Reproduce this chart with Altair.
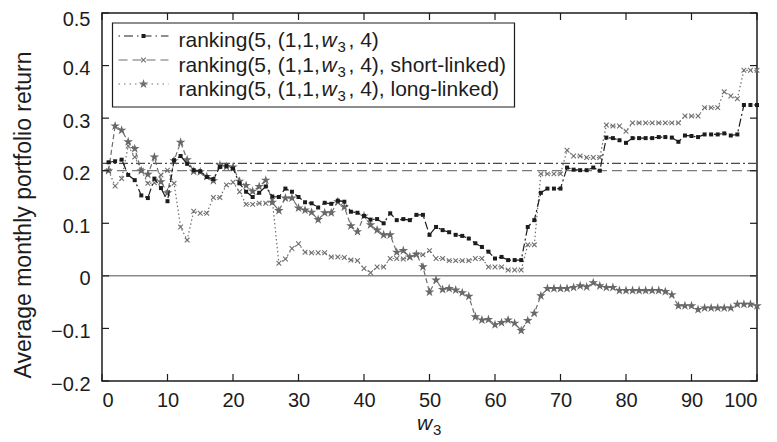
import altair as alt
import pandas as pd

# ---------------- data ----------------
w3 = list(range(1, 101))

ranking = [
    0.216, 0.218, 0.221, 0.192, 0.182, 0.153, 0.148, 0.185, 0.167, 0.142,
    0.220, 0.228, 0.213, 0.201, 0.199, 0.188, 0.184, 0.207, 0.209, 0.204,
    0.176, 0.160, 0.150, 0.158, 0.170, 0.151, 0.150, 0.166, 0.160, 0.150,
    0.140, 0.138, 0.130, 0.139, 0.137, 0.143, 0.141, 0.122, 0.120, 0.114,
    0.107, 0.108, 0.100, 0.119, 0.106, 0.108, 0.106, 0.116, 0.116, 0.078,
    0.093, 0.087, 0.083, 0.078, 0.076, 0.071, 0.062, 0.055, 0.046, 0.033,
    0.036, 0.030, 0.030, 0.030, 0.093, 0.106, 0.158, 0.166, 0.166, 0.166,
    0.206, 0.202, 0.201, 0.201, 0.206, 0.200, 0.263, 0.262, 0.258, 0.253,
    0.262, 0.262, 0.262, 0.262, 0.264, 0.264, 0.263, 0.255, 0.267, 0.266,
    0.264, 0.269, 0.269, 0.269, 0.271, 0.267, 0.269, 0.325, 0.325, 0.325,
]

short_linked = [
    0.200, 0.171, 0.185, 0.247, 0.226, 0.201, 0.176, 0.177, 0.192, 0.201,
    0.176, 0.093, 0.068, 0.123, 0.119, 0.119, 0.149, 0.149, 0.173, 0.178,
    0.160, 0.136, 0.136, 0.138, 0.138, 0.144, 0.024, 0.032, 0.052, 0.061,
    0.045, 0.044, 0.044, 0.044, 0.036, 0.036, 0.035, 0.030, 0.029, 0.014,
    0.006, 0.017, 0.017, 0.033, 0.033, 0.032, 0.035, 0.040, 0.040, 0.048,
    0.033, 0.033, 0.029, 0.029, 0.029, 0.029, 0.033, 0.033, 0.017, 0.017,
    0.017, 0.011, 0.011, 0.011, 0.059, 0.059, 0.194, 0.194, 0.194, 0.194,
    0.239, 0.228, 0.228, 0.225, 0.225, 0.225, 0.287, 0.285, 0.285, 0.275,
    0.291, 0.291, 0.291, 0.291, 0.291, 0.291, 0.291, 0.291, 0.304, 0.304,
    0.304, 0.320, 0.320, 0.320, 0.350, 0.342, 0.337, 0.391, 0.391, 0.391,
]

long_linked = [
    0.200, 0.285, 0.277, 0.255, 0.242, 0.200, 0.193, 0.226, 0.179, 0.158,
    0.219, 0.254, 0.221, 0.199, 0.198, 0.189, 0.181, 0.211, 0.208, 0.207,
    0.180, 0.172, 0.161, 0.170, 0.182, 0.140, 0.124, 0.148, 0.148, 0.129,
    0.125, 0.121, 0.107, 0.120, 0.120, 0.141, 0.131, 0.095, 0.084, 0.114,
    0.097, 0.087, 0.078, 0.078, 0.045, 0.048, 0.036, 0.041, 0.017, -0.031,
    -0.008, -0.026, -0.024, -0.027, -0.032, -0.039, -0.078, -0.084, -0.083, -0.093,
    -0.089, -0.084, -0.090, -0.104, -0.085, -0.071, -0.038, -0.024, -0.024, -0.024,
    -0.024, -0.022, -0.019, -0.021, -0.013, -0.019, -0.022, -0.022, -0.028, -0.028,
    -0.028, -0.028, -0.028, -0.028, -0.028, -0.030, -0.036, -0.057, -0.057, -0.057,
    -0.064, -0.061, -0.061, -0.061, -0.061, -0.061, -0.054, -0.054, -0.054, -0.057,
]

bench_dashdot = [0.214]
bench_dashed = [0.200]
zero_level = [0.0]

x_ticks = [0, 10, 20, 30, 40, 50, 60, 70, 80, 90, 100]
y_ticks = [-0.2, -0.1, 0.0, 0.1, 0.2, 0.3, 0.4, 0.5]
y_tick_labels = ["\u22120.2", "\u22120.1", "0", "0.1", "0.2", "0.3", "0.4", "0.5"]

legend_prefix = ["ranking(5, (1,1,", "ranking(5, (1,1,", "ranking(5, (1,1,"]
legend_suffix = [", 4)", ", 4), short-linked)", ", 4), long-linked)"]
y_title = "Average monthly portfolio return"

# ---------------- layout / style ----------------
W, H = 655, 368
FONT = "Liberation Sans"
BLACK = "#1c1c1c"
GRAY = "#6e6e6e"
STAR = ("M0,-1L0.225,-0.309L0.951,-0.309L0.363,0.118L0.588,0.809L0,0.382"
        "L-0.588,0.809L-0.363,0.118L-0.951,-0.309L-0.225,-0.309Z")
XMARK = "M-1,-1L1,1M-1,1L1,-1"

label_expr = " : ".join(
    f"abs(datum.value - ({v})) < 1e-9 ? '{l}'" for v, l in zip(y_ticks, y_tick_labels)
) + " : ''"

xenc = alt.X("w:Q", scale=alt.Scale(domain=[0, 100], nice=False, zero=False),
             axis=alt.Axis(values=x_ticks, title=None, ticks=False, domain=False,
                           grid=False, labelPadding=9, labelFontSize=20,
                           labelColor=BLACK, labelFont=FONT, format="d"))
yenc = alt.Y("v:Q", scale=alt.Scale(domain=[-0.2, 0.5], nice=False, zero=False),
             axis=alt.Axis(values=y_ticks, title=None, ticks=False, domain=False,
                           grid=False, labelPadding=12, labelFontSize=20,
                           labelOffset={"condition": {"test": "datum.value > 0.45", "value": 6},
                                        "value": 3},
                           labelColor=BLACK, labelFont=FONT, labelExpr=label_expr))

one = pd.DataFrame({"a": [0]})

layers = []

# horizontal reference lines
layers.append(alt.Chart(pd.DataFrame({"v": zero_level})).mark_rule(
    color="#8a8a8a", strokeWidth=1.5).encode(y=yenc))
layers.append(alt.Chart(pd.DataFrame({"v": bench_dashdot})).mark_rule(
    color="#4a4a4a", strokeWidth=1.1, strokeDash=[9, 3, 2, 3]).encode(y=yenc))
layers.append(alt.Chart(pd.DataFrame({"v": bench_dashed})).mark_rule(
    color="#7a7a7a", strokeWidth=1.2, strokeDash=[10, 5]).encode(y=yenc))

# series
df_r = pd.DataFrame({"w": w3, "v": ranking})
df_s = pd.DataFrame({"w": w3, "v": short_linked})
df_l = pd.DataFrame({"w": w3, "v": long_linked})

layers.append(alt.Chart(df_s).mark_line(color=GRAY, strokeWidth=1.2,
                                        strokeDash=[1.5, 2.5]).encode(x=xenc, y=yenc))
layers.append(alt.Chart(df_s).mark_point(shape=XMARK, filled=False, size=22,
                                         strokeWidth=1.1, color="#707070", opacity=1
                                         ).encode(x=xenc, y=yenc))
layers.append(alt.Chart(df_l).mark_line(color=GRAY, strokeWidth=1.2,
                                        strokeDash=[5, 3]).encode(x=xenc, y=yenc))
layers.append(alt.Chart(df_l).mark_point(shape=STAR, filled=True, size=100,
                                         color="#686868", opacity=1).encode(x=xenc, y=yenc))
layers.append(alt.Chart(df_r).mark_line(color=BLACK, strokeWidth=1.2,
                                        strokeDash=[8, 3, 2, 3]).encode(x=xenc, y=yenc))
layers.append(alt.Chart(df_r).mark_point(shape="square", filled=True, size=16,
                                         color=BLACK, opacity=1).encode(x=xenc, y=yenc))

# inward ticks (all four sides)
df_xt = pd.DataFrame({"w": x_ticks})
df_yt = pd.DataFrame({"v": y_ticks})
TL = 7
layers.append(alt.Chart(df_xt).mark_rule(color=BLACK, strokeWidth=1.2).encode(
    x=xenc, y=alt.value(H), y2=alt.value(H - TL)))
layers.append(alt.Chart(df_xt).mark_rule(color=BLACK, strokeWidth=1.2).encode(
    x=xenc, y=alt.value(0), y2=alt.value(TL)))
layers.append(alt.Chart(df_yt).mark_rule(color=BLACK, strokeWidth=1.2).encode(
    y=yenc, x=alt.value(0), x2=alt.value(TL)))
layers.append(alt.Chart(df_yt).mark_rule(color=BLACK, strokeWidth=1.2).encode(
    y=yenc, x=alt.value(W - TL), x2=alt.value(W)))

# legend box
LX0, LX1, LY0, LY1 = 10.5, 412.5, 10, 94
layers.append(alt.Chart(one).mark_rect(fill="white", stroke=BLACK, strokeWidth=1.2).encode(
    x=alt.value(LX0), x2=alt.value(LX1), y=alt.value(LY0), y2=alt.value(LY1)))

leg_styles = [
    dict(color=BLACK, dash=[1.5, 4, 9, 4], shape="square", size=16, filled=True, sw=1.1),
    dict(color=GRAY, dash=[9, 5], shape=XMARK, size=22, filled=False, sw=1.1),
    dict(color=GRAY, dash=[1.5, 4], shape=STAR, size=100, filled=True, sw=1.1),
]
row_sym_y = [23, 47, 71]
row_txt_y = [34, 59, 83]
SX0, SX1, SXC = 16.5, 66.5, 41.5
TX = 76.5
LFS = 21
for i, st in enumerate(leg_styles):
    layers.append(alt.Chart(one).mark_rule(color=st["color"], strokeWidth=1.2,
                                           strokeDash=st["dash"]).encode(
        x=alt.value(SX0), x2=alt.value(SX1), y=alt.value(row_sym_y[i])))
    layers.append(alt.Chart(one).mark_point(shape=st["shape"], size=st["size"],
                                            filled=st["filled"], color=st["color"],
                                            strokeWidth=st["sw"], opacity=1).encode(
        x=alt.value(SXC), y=alt.value(row_sym_y[i])))
    layers.append(alt.Chart(one).mark_text(text=legend_prefix[i], align="left",
                                           baseline="alphabetic", font=FONT, fontSize=LFS,
                                           color=BLACK).encode(
        x=alt.value(TX), y=alt.value(row_txt_y[i])))
    layers.append(alt.Chart(one).mark_text(text="w", align="left", baseline="alphabetic",
                                           font=FONT, fontSize=LFS, fontStyle="italic",
                                           color=BLACK).encode(
        x=alt.value(TX + 143), y=alt.value(row_txt_y[i])))
    layers.append(alt.Chart(one).mark_text(text="3", align="left", baseline="alphabetic",
                                           font=FONT, fontSize=15, color=BLACK).encode(
        x=alt.value(TX + 159), y=alt.value(row_txt_y[i] + 5)))
    layers.append(alt.Chart(one).mark_text(text=legend_suffix[i], align="left",
                                           baseline="alphabetic", font=FONT, fontSize=LFS,
                                           color=BLACK).encode(
        x=alt.value(TX + 170), y=alt.value(row_txt_y[i])))

# axis titles
layers.append(alt.Chart(one).mark_text(text=y_title, angle=270, align="center",
                                       baseline="middle", font=FONT, fontSize=23,
                                       color=BLACK).encode(
    x=alt.value(-78), y=alt.value(202)))
layers.append(alt.Chart(one).mark_text(text="w", align="left", baseline="alphabetic",
                                       font=FONT, fontSize=21, fontStyle="italic",
                                       color=BLACK).encode(
    x=alt.value(315), y=alt.value(417)))
layers.append(alt.Chart(one).mark_text(text="3", align="left", baseline="alphabetic",
                                       font=FONT, fontSize=15, color=BLACK).encode(
    x=alt.value(331), y=alt.value(422)))

chart = alt.layer(*layers).properties(
    width=W, height=H,
    autosize=alt.AutoSizeParams(type="none"),
    padding={"left": 94, "top": 5, "right": 12, "bottom": 64},
    background="white",
).configure_view(stroke=BLACK, strokeWidth=1.5)

chart.save("out.html", embed_options={"renderer": "svg", "actions": False})
